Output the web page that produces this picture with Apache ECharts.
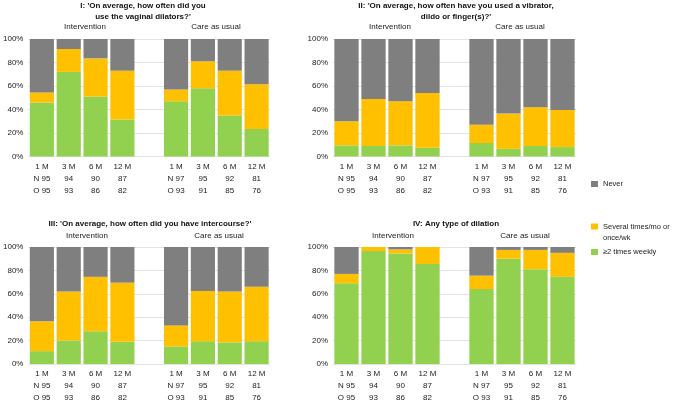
<!DOCTYPE html>
<html>
<head>
<meta charset="utf-8">
<script src="https://cdn.jsdelivr.net/npm/echarts@6/dist/echarts.min.js"></script>
<style>
  html, body { margin: 0; padding: 0; background: #fff; }
  #chart { width: 677px; height: 404px; }
</style>
</head>
<body>
<div id="chart"></div>
<script>
// categories (middle one is the empty gap between the two groups)
var months = ['1 M', '3 M', '6 M', '12 M', '', '1 M', '3 M', '6 M', '12 M'];
var nCounts = [95, 94, 90, 87, null, 97, 95, 92, 81];
var oCounts = [95, 93, 86, 82, null, 93, 91, 85, 76];
var yTicks = [0, 20, 40, 60, 80, 100];

var seriesNames = ['≥2 times weekly', 'Several times/mo or\nonce/wk', 'Never'];

// I: vaginal dilators
var p1Weekly = [46, 72, 51, 31.5, null, 47, 58, 35, 23.5];
var p1Several = [8.5, 19.5, 32.5, 41.5, null, 10, 23, 38, 38];
var p1Never = [45.5, 8.5, 16.5, 27, null, 43, 19, 27, 38.5];
// II: vibrator, dildo or finger(s)
var p2Weekly = [9.5, 9, 9.5, 7.5, null, 11.5, 6.5, 9, 8];
var p2Several = [20.5, 40, 37.5, 46.5, null, 15.5, 30, 33, 31.5];
var p2Never = [70, 51, 53, 46, null, 73, 63.5, 58, 60.5];
// III: intercourse
var p3Weekly = [11, 20, 28, 19, null, 15, 19.5, 18.5, 19.5];
var p3Several = [25.5, 42, 46.5, 50.5, null, 18, 43, 43.5, 46.5];
var p3Never = [63.5, 38, 25.5, 30.5, null, 67, 37.5, 38, 34];
// IV: any type of dilation
var p4Weekly = [69, 96.5, 94.5, 85.5, null, 64, 90, 81, 74.5];
var p4Several = [8, 3.5, 3.5, 14.5, null, 11.5, 7.5, 16.5, 20.5];
var p4Never = [23, 0, 2, 0, null, 24.5, 2.5, 2.5, 5];

var panelTitles = [
  "I: 'On average, how often did you\nuse the vaginal dilators?'",
  "II: 'On average, how often have you used a vibrator,\ndildo or finger(s)?'",
  "III: 'On average, how often did you have intercourse?'",
  "IV: Any type of dilation"
];
var groupNames = ['Intervention', 'Care as usual'];

var colors = ['#92d050', '#ffc000', '#7f7f7f'];
var font = '"Liberation Sans", Arial, Helvetica, sans-serif';

var panelData = [
  [p1Weekly, p1Several, p1Never],
  [p2Weekly, p2Several, p2Never],
  [p3Weekly, p3Several, p3Never],
  [p4Weekly, p4Several, p4Never]
];

// layout of the four panels
var grids = [
  { left: 26, top: 39, width: 244, height: 117.5 },
  { left: 333, top: 39, width: 243, height: 117.5 },
  { left: 26, top: 247, width: 244, height: 117.5 },
  { left: 333, top: 247, width: 243, height: 117.5 }
];
var titlePos = [
  { x: 143, y: 0, g1: 85, g2: 216, gy: 22 },
  { x: 456, y: 0, g1: 390, g2: 520, gy: 22 },
  { x: 150, y: 218, g1: 87, g2: 219, gy: 231 },
  { x: 456, y: 218, g1: 393, g2: 525, gy: 231 }
];

function xLabel(i) {
  if (months[i] === '') return '';
  var first = (i === 0 || i === 5);
  return months[i] + '\n' + (first ? 'N ' : '') + nCounts[i] + '\n' + (first ? 'O ' : '') + oCounts[i];
}

var titles = [];
var xAxes = [];
var yAxes = [];
var series = [];

for (var p = 0; p < 4; p++) {
  var t = titlePos[p];
  titles.push({
    text: panelTitles[p], left: t.x, top: t.y, textAlign: 'center', padding: 0,
    textStyle: { fontFamily: font, fontSize: 8, fontWeight: 'bold', color: '#111', lineHeight: 11 }
  });
  titles.push({
    text: groupNames[0], left: t.g1, top: t.gy, textAlign: 'center', padding: 0,
    textStyle: { fontFamily: font, fontSize: 8, fontWeight: 'normal', color: '#222', lineHeight: 10 }
  });
  titles.push({
    text: groupNames[1], left: t.g2, top: t.gy, textAlign: 'center', padding: 0,
    textStyle: { fontFamily: font, fontSize: 8, fontWeight: 'normal', color: '#222', lineHeight: 10 }
  });

  xAxes.push({
    type: 'category', gridIndex: p, data: months,
    axisLine: { show: false }, axisTick: { show: false },
    axisLabel: {
      interval: 0, margin: 4, fontFamily: font, fontSize: 8, color: '#222', lineHeight: 12,
      formatter: function (v, i) { return xLabel(i); }
    }
  });
  yAxes.push({
    type: 'value', gridIndex: p, min: yTicks[0], max: yTicks[yTicks.length - 1], interval: 20,
    axisLine: { show: false }, axisTick: { show: false },
    axisLabel: { margin: 5, fontFamily: font, fontSize: 8, color: '#222', formatter: '{value}%' },
    splitLine: { lineStyle: { color: '#e3e3e3', width: 1 } }
  });

  for (var s = 0; s < 3; s++) {
    series.push({
      name: seriesNames[s], type: 'bar', stack: 'panel' + p,
      xAxisIndex: p, yAxisIndex: p,
      barCategoryGap: '10%',
      itemStyle: { color: colors[s] },
      data: panelData[p][s],
      animation: false
    });
  }
}

var legendText = { fontFamily: font, fontSize: 7.5, color: '#222' };
var legendBase = {
  left: 591, orient: 'vertical', icon: 'rect', itemWidth: 7, itemHeight: 6, padding: 0,
  selectedMode: false
};
var legends = [
  Object.assign({}, legendBase, { top: 180, data: [seriesNames[2]], textStyle: legendText }),
  Object.assign({}, legendBase, {
    top: 210, data: [seriesNames[1]],
    // empty first row so the icon lines up with the first text line
    formatter: function (name) {
      var parts = name.split('\n');
      return '{e| }\n{t|' + parts[0] + '}\n{t|' + parts[1] + '}';
    },
    textStyle: Object.assign({}, legendText, {
      rich: { e: { fontSize: 7.5, lineHeight: 11, height: 11 }, t: { fontFamily: font, fontSize: 7.5, color: '#222', lineHeight: 11 } }
    })
  }),
  Object.assign({}, legendBase, { top: 248, data: [seriesNames[0]], textStyle: legendText })
];

var chart = echarts.init(document.getElementById('chart'));
chart.setOption({
  backgroundColor: '#fff',
  animation: false,
  title: titles,
  legend: legends,
  grid: grids,
  xAxis: xAxes,
  yAxis: yAxes,
  series: series
});
</script>
</body>
</html>
